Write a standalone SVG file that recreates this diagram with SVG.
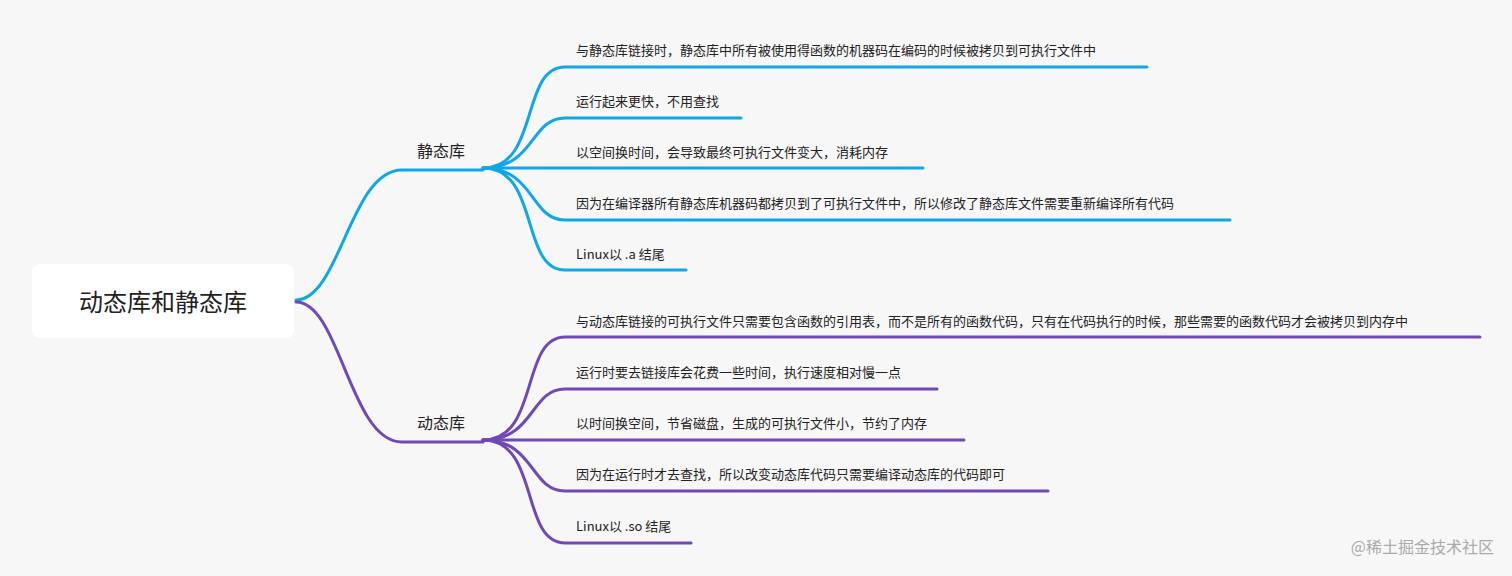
<svg xmlns="http://www.w3.org/2000/svg" width="1512" height="576" viewBox="0 0 1512 576">
<style>
text{font-family:"Noto Sans CJK SC","Noto Sans",sans-serif;fill:#222}
.leaf{font-size:13px}
.mid{font-size:16px}
.b{stroke:#10a6e8;fill:none;stroke-width:3;stroke-linecap:round}
.p{stroke:#7048b8;fill:none;stroke-width:3;stroke-linecap:round}
</style>
<rect width="1512" height="576" fill="#f7f7f8"/>
<g id="connectors">
<path class="b" d="M296 300 C340 300 350 170 402 170 L483 170"/>
<path class="p" d="M296 302 C340 302 350 442 402 442 L483 442"/>
<path class="b" d="M483 168 C540 168 520 67 565 67 L1147 67"/>
<path class="b" d="M483 168 C535 168 530 118 565 118 L741 118"/>
<path class="b" d="M483 168 L565 168 L923 168"/>
<path class="b" d="M483 168 C535 168 530 220 565 220 L1230 220"/>
<path class="b" d="M483 168 C540 168 520 270 565 270 L686 270"/>
<path class="p" d="M483 440 C540 440 520 337 565 337 L1480 337"/>
<path class="p" d="M483 440 C535 440 530 389 565 389 L937 389"/>
<path class="p" d="M483 440 L565 440 L964 440"/>
<path class="p" d="M483 440 C535 440 530 491 565 491 L1048 491"/>
<path class="p" d="M483 440 C540 440 520 543 565 543 L691 543"/>
</g>
<g id="root"><rect x="32" y="264" width="262" height="74" rx="8" fill="#fff"/><text x="163" y="311" font-size="24" text-anchor="middle">动态库和静态库</text></g>
<g id="static"><text class="mid" x="417" y="157">静态库</text></g>
<g id="dynamic"><text class="mid" x="417" y="429">动态库</text></g>
<g id="s1"><text class="leaf" x="576" y="55">与静态库链接时，静态库中所有被使用得函数的机器码在编码的时候被拷贝到可执行文件中</text></g>
<g id="s2"><text class="leaf" x="576" y="106">运行起来更快，不用查找</text></g>
<g id="s3"><text class="leaf" x="576" y="157">以空间换时间，会导致最终可执行文件变大，消耗内存</text></g>
<g id="s4"><text class="leaf" x="576" y="208">因为在编译器所有静态库机器码都拷贝到了可执行文件中，所以修改了静态库文件需要重新编译所有代码</text></g>
<g id="s5"><text class="leaf" x="576" y="259">Linux以 .a 结尾</text></g>
<g id="d1"><text class="leaf" x="576" y="326">与动态库链接的可执行文件只需要包含函数的引用表，而不是所有的函数代码，只有在代码执行的时候，那些需要的函数代码才会被拷贝到内存中</text></g>
<g id="d2"><text class="leaf" x="576" y="377">运行时要去链接库会花费一些时间，执行速度相对慢一点</text></g>
<g id="d3"><text class="leaf" x="576" y="428">以时间换空间，节省磁盘，生成的可执行文件小，节约了内存</text></g>
<g id="d4"><text class="leaf" x="576" y="479">因为在运行时才去查找，所以改变动态库代码只需要编译动态库的代码即可</text></g>
<g id="d5"><text class="leaf" x="576" y="531">Linux以 .so 结尾</text></g>
<text x="1494" y="553" font-size="16" text-anchor="end" style="fill:#aaa">@稀土掘金技术社区</text>
</svg>
